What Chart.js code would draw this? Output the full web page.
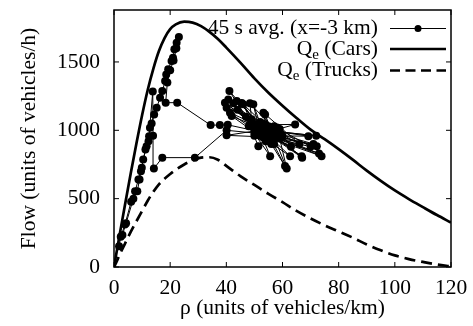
<!DOCTYPE html>
<html>
<head>
<meta charset="utf-8">
<script src="https://cdn.jsdelivr.net/npm/chart.js@4/dist/chart.umd.min.js"></script>
<style>
  html, body { margin: 0; padding: 0; background: #fff; }
</style>
</head>
<body>
<canvas id="c" width="473" height="326"></canvas>
<script>
// Flow-density diagram: 45 s averages at x=-3 km + equilibrium curves Q_e
const xTicks = [0, 20, 40, 60, 80, 100, 120];
const yTicks = [0, 500, 1000, 1500];

// Q_e (Cars)
const rhoCars = [0, 2, 4, 6, 8, 10, 12, 14, 16, 18, 20, 22, 25, 28, 31, 34, 37, 40, 45, 50,
  55, 60, 65, 70, 75, 80, 85, 90, 95, 100, 105, 110, 115, 120];
const qCars = [0, 235, 465, 690, 905, 1110, 1295, 1450, 1580, 1675, 1740, 1775, 1795, 1788, 1762, 1720, 1668, 1605, 1495, 1380,
  1275, 1180, 1090, 1005, 935, 862, 785, 705, 630, 560, 497, 438, 380, 325];

// Q_e (Trucks)
const rhoTrucks = [0, 1, 2, 4, 6, 8, 10, 12, 14, 16, 18, 20, 22, 25, 28, 31, 34, 37, 40, 45, 50,
  55, 60, 65, 70, 75, 80, 85, 90, 95, 100, 105, 110, 115, 120];
const qTrucks = [0, 43, 90, 175, 258, 335, 410, 485, 550, 605, 645, 680, 712, 750, 780, 800, 803, 785, 740, 665, 600,
  535, 475, 410, 355, 305, 260, 215, 165, 122, 85, 58, 37, 18, 5];

// 45 s averages, in time order
const avgRho = [
  1.8, 2.4, 3.9, 6.1, 7.5, 8.7, 9.9, 10.4, 11.6, 12.5, 12.8, 13.4, 14.3, 15.2, 16.4, 17.2, 18.2, 18.6, 19.3, 20.5, 21.0, 21.5, 22.3, 23.1,
  22.2, 21.2, 20.0, 19.0, 18.4, 22.5, 34.4, 37.7,
  40.5, 54, 72.2, 50, 41.1, 55, 69.2, 52, 39.5, 56, 73.9, 53, 42.5, 55.6, 51, 64.5, 50, 43.7, 57, 66.8, 52, 45.5, 55, 62.7,
  49, 48.4, 58, 72, 54, 41.9, 56, 60.9, 53, 40.1, 57, 70, 51, 46, 59, 61.5, 53.8, 55, 67, 50, 40.7, 56, 73, 52, 49.6, 54,
  51.4, 47, 57, 66, 53.2, 55, 40.1, 58, 63, 48, 41.3, 56, 71, 52, 44, 54,
  53, 56, 51, 58, 54, 52, 57, 55, 50, 53, 59, 54, 56, 52, 55, 57, 51, 60, 40.1,
  28.8, 17.2, 14.2, 13.9, 13.8, 12.3, 11.2, 9.6, 9.1, 8.3, 6.9, 4.3, 3.0
];
const avgFlow = [
  152, 221, 311, 477, 555, 640, 726, 787, 884, 957, 1019, 1050, 1116, 1165, 1238, 1287, 1360, 1409, 1446, 1507, 1531, 1592, 1641, 1682,
  1600, 1510, 1440, 1350, 1202, 1202, 1038, 1038,
  1040, 980, 884, 1000, 1287, 960, 957, 1010, 1202, 940, 811, 990, 1197, 811, 1040, 1043, 960, 1214, 950, 811, 1020, 1200, 920, 811,
  1080, 1197, 990, 960, 1000, 1104, 900, 738, 1050, 1165, 1030, 880, 970, 1190, 940, 720, 1116, 1000, 800, 1040, 1226, 970, 830, 980, 1190, 940,
  884, 1100, 1000, 900, 1129, 950, 963, 1020, 880, 1030, 1129, 990, 900, 960, 1150, 1010,
  1000, 960, 990, 970, 920, 1060, 980, 1030, 980, 950, 1010, 1040, 930, 970, 990, 900, 1010, 960, 1000,
  800, 800, 720, 960, 1283, 920, 860, 700, 640, 555, 500, 320, 235
];

const pts = (xs, ys) => xs.map((v, i) => ({ x: v, y: ys[i] }));

const FONT = '"Liberation Serif", "Times New Roman", serif';
const FSIZE = 21.5;
const TICK = 5;

// closed frame with inward ticks on all four sides
const framePlugin = {
  id: 'frame',
  afterDraw(chart) {
    const { ctx, chartArea: a, scales: { x, y } } = chart;
    ctx.save();
    ctx.strokeStyle = '#000';
    ctx.lineWidth = 1.5;
    ctx.strokeRect(a.left, a.top, a.right - a.left, a.bottom - a.top);
    ctx.lineWidth = 1;
    ctx.beginPath();
    xTicks.forEach(v => {
      const px = x.getPixelForValue(v);
      ctx.moveTo(px, a.bottom); ctx.lineTo(px, a.bottom - TICK);
      ctx.moveTo(px, a.top); ctx.lineTo(px, a.top + TICK);
    });
    yTicks.forEach(v => {
      const py = y.getPixelForValue(v);
      ctx.moveTo(a.left, py); ctx.lineTo(a.left + TICK, py);
      ctx.moveTo(a.right, py); ctx.lineTo(a.right - TICK, py);
    });
    ctx.stroke();
    ctx.restore();
  }
};

// gnuplot-style key: right aligned text, sample line to the right
const keyPlugin = {
  id: 'key',
  afterDraw(chart) {
    const { ctx } = chart;
    const textRight = 378, x0 = 390, x1 = 446;
    const rows = [
      { parts: [['45 s avg. (x=-3 km)', 0]], y: 28.5, width: 1, dash: [], dot: true },
      { parts: [['Q', 0], ['e', 1], [' (Cars)', 0]], y: 49, width: 2.7, dash: [] },
      { parts: [['Q', 0], ['e', 1], [' (Trucks)', 0]], y: 70.5, width: 2.7, dash: [10, 5.5] },
    ];
    ctx.save();
    ctx.fillStyle = '#000';
    ctx.strokeStyle = '#000';
    ctx.textBaseline = 'middle';
    ctx.textAlign = 'left';
    rows.forEach(r => {
      const setFont = sub => { ctx.font = (sub ? '15px ' : FSIZE + 'px ') + FONT; };
      let total = 0;
      r.parts.forEach(([t, sub]) => { setFont(sub); total += ctx.measureText(t).width; });
      let tx = textRight - total;
      r.parts.forEach(([t, sub]) => {
        setFont(sub);
        ctx.fillText(t, tx, r.y + (sub ? 6 : 0));
        tx += ctx.measureText(t).width;
      });
      ctx.lineWidth = r.width;
      ctx.setLineDash(r.dash);
      ctx.beginPath();
      ctx.moveTo(x0, r.y); ctx.lineTo(x1, r.y);
      ctx.stroke();
      ctx.setLineDash([]);
      if (r.dot) {
        ctx.beginPath();
        ctx.arc((x0 + x1) / 2, r.y, 3.5, 0, Math.PI * 2);
        ctx.fill();
      }
    });
    ctx.restore();
  }
};

// keep the plot box where it belongs, no extra room for overhanging labels
const noPad = s => { s.paddingTop = s.paddingBottom = s.paddingLeft = s.paddingRight = 0; };

Chart.defaults.font.family = FONT;
Chart.defaults.font.size = FSIZE;
Chart.defaults.color = '#000';

new Chart(document.getElementById('c'), {
  type: 'scatter',
  data: {
    datasets: [
      {
        label: 'Q_e (Trucks)',
        data: pts(rhoTrucks, qTrucks),
        showLine: true, borderColor: '#000', borderWidth: 2.7, borderDash: [11, 6],
        pointRadius: 0, cubicInterpolationMode: 'monotone',
      },
      {
        label: 'Q_e (Cars)',
        data: pts(rhoCars, qCars),
        showLine: true, borderColor: '#000', borderWidth: 2.7,
        pointRadius: 0, cubicInterpolationMode: 'monotone',
      },
      {
        label: '45 s avg. (x=-3 km)',
        data: pts(avgRho, avgFlow),
        showLine: true, borderColor: '#000', borderWidth: 1, tension: 0,
        pointRadius: 4, pointBorderWidth: 0, pointBackgroundColor: '#000',
      },
    ],
  },
  options: {
    responsive: false,
    animation: false,
    events: [],
    layout: { padding: { top: 10, right: 22, left: 0, bottom: 0 } },
    plugins: { legend: { display: false }, tooltip: { enabled: false } },
    scales: {
      x: {
        type: 'linear', min: 0, max: 120,
        afterBuildTicks: s => { s.ticks = xTicks.map(v => ({ value: v })); },
        afterFit: s => { s.height = 59; noPad(s); },
        grid: { display: false, drawTicks: false },
        border: { display: false },
        ticks: { padding: 8, maxRotation: 0, autoSkip: false, callback: v => String(v) },
        title: { display: true, text: 'ρ (units of vehicles/km)', padding: { top: 0, bottom: 5 } },
      },
      y: {
        type: 'linear', min: 0, max: 1880,
        afterBuildTicks: s => { s.ticks = yTicks.map(v => ({ value: v })); },
        afterFit: s => { s.width = 114; noPad(s); },
        grid: { display: false, drawTicks: false },
        border: { display: false },
        ticks: { padding: 14, autoSkip: false, callback: v => String(v) },
        title: { display: true, text: 'Flow (units of vehicles/h)', padding: { top: 16, bottom: 0 } },
      },
    },
  },
  plugins: [framePlugin, keyPlugin],
});
</script>
</body>
</html>
